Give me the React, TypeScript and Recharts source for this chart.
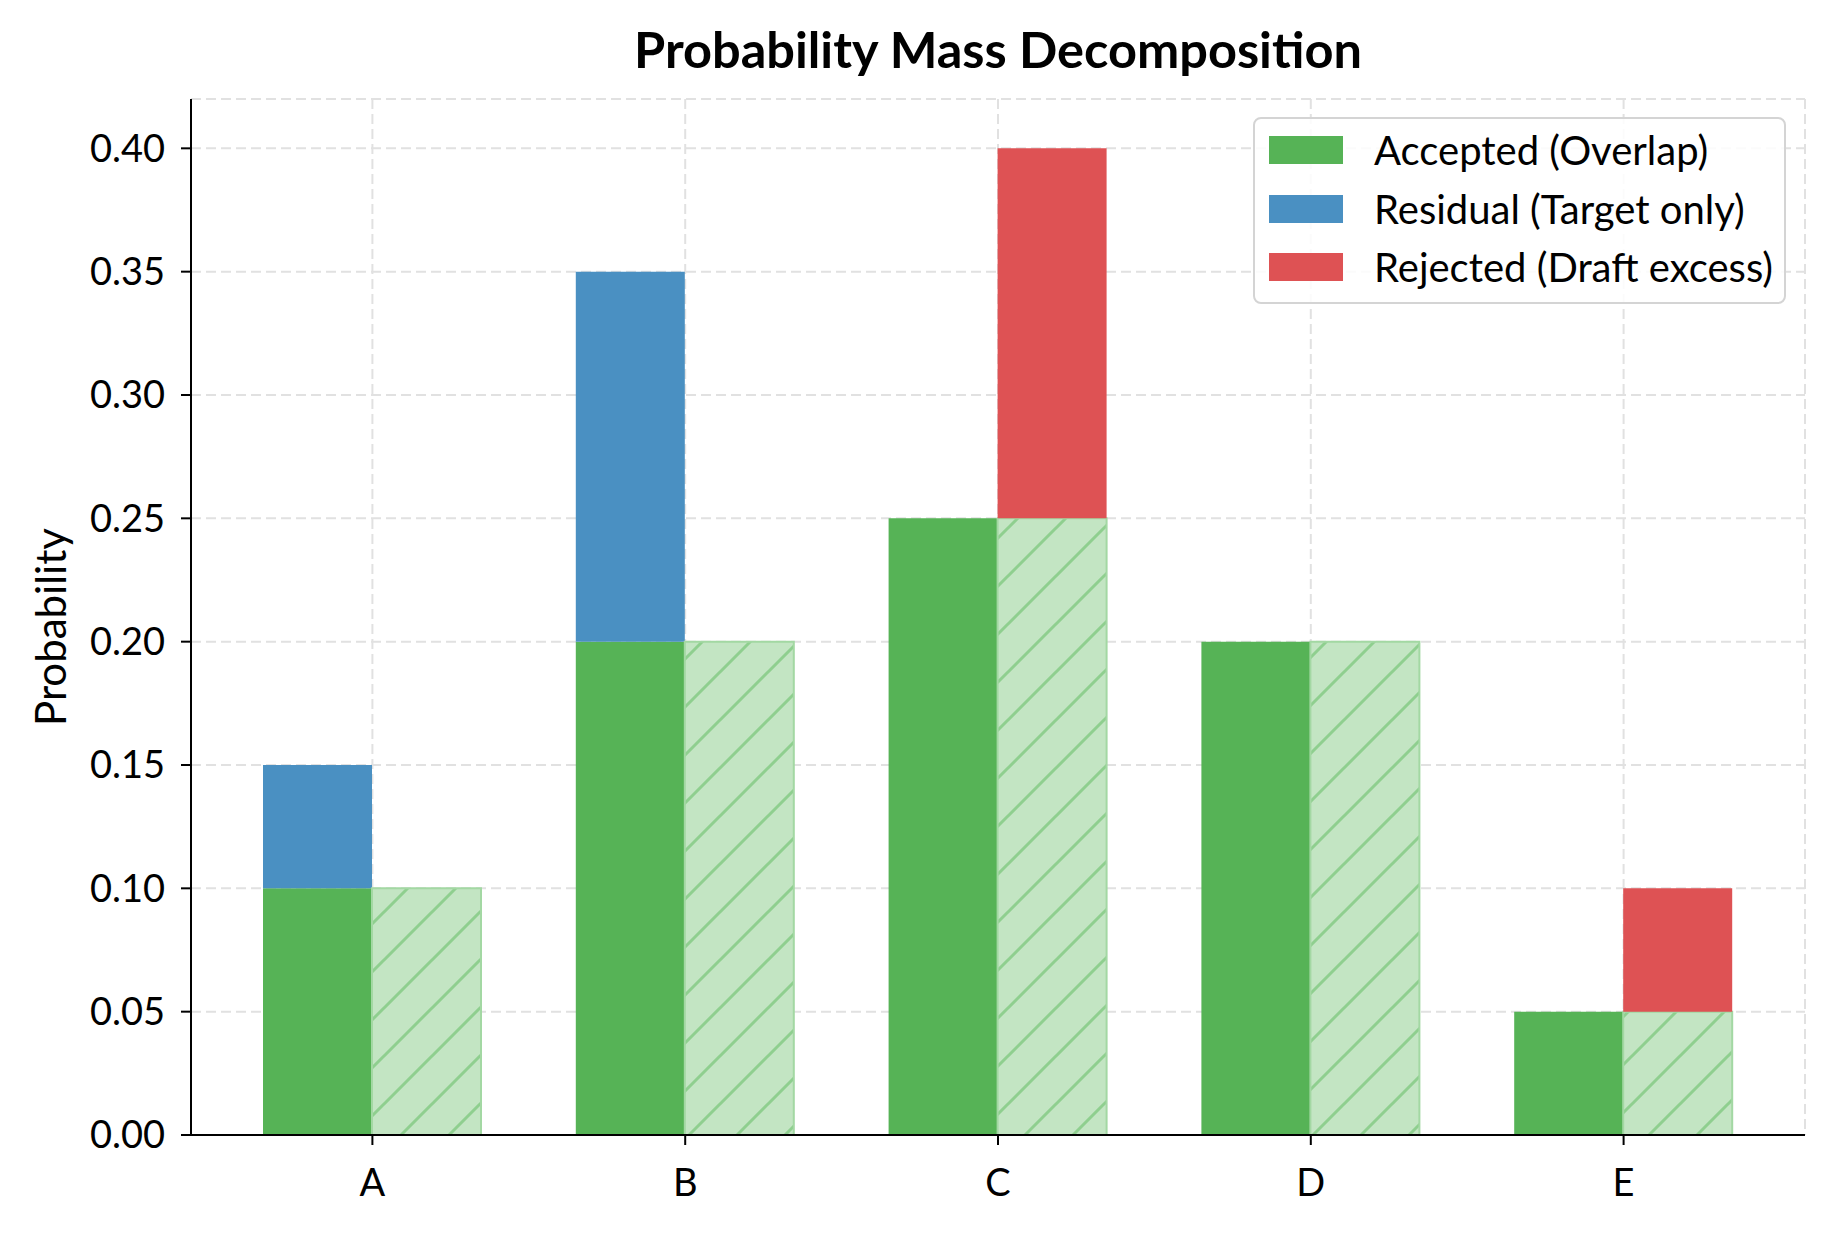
import { BarChart, Bar, XAxis, YAxis, CartesianGrid } from 'recharts';

const categories = ['A', 'B', 'C', 'D', 'E'];
const accepted = [0.1, 0.2, 0.25, 0.2, 0.05];
const residual = [0.05, 0.15, 0, 0, 0];
const rejected = [0, 0, 0.15, 0, 0.05];
const yTicks = [0, 0.05, 0.1, 0.15, 0.2, 0.25, 0.3, 0.35, 0.4];

const legendItems = [
  { label: 'Accepted (Overlap)', color: '#56b356' },
  { label: 'Residual (Target only)', color: '#4a90c2' },
  { label: 'Rejected (Draft excess)', color: '#de5254' },
];

const data = categories.map((name, i) => ({
  name,
  accepted: accepted[i],
  residual: residual[i],
  acceptedDraft: accepted[i],
  rejected: rejected[i],
}));

const FONT = 'Lato, "Noto Sans", sans-serif';

export default function App() {
  return (
    <div style={{ position: 'relative', width: 1834, height: 1234, background: '#fff', fontFamily: FONT }}>
      <style>{`body{margin:0}`}</style>
      {/* hatch pattern for the draft's accepted mass */}
      <svg width={0} height={0} style={{ position: 'absolute' }}>
        <defs>
          <pattern id="hatch" patternUnits="userSpaceOnUse" width={48} height={48}>
            <rect width={48} height={48} fill="#c3e5c3" />
            <path d="M-12,12 L12,-12 M0,48 L48,0 M36,60 L60,36" stroke="#8fcf8f" strokeWidth={3} />
          </pattern>
        </defs>
      </svg>

      <BarChart
        width={1834}
        height={1234}
        data={data}
        margin={{ top: 99, right: 29, bottom: 39, left: 11 }}
        barGap={0}
        barSize={109}
      >
        <CartesianGrid stroke="#e1e1e1" strokeWidth={2} strokeDasharray="10 5" />
        <XAxis
          dataKey="name"
          padding={{ left: 25, right: 25 }}
          height={60}
          tickSize={10}
          tickMargin={24}
          axisLine={{ stroke: '#000', strokeWidth: 2 }}
          tickLine={{ stroke: '#000', strokeWidth: 2 }}
          tick={{ fill: '#000', fontSize: 38, fontFamily: FONT }}
        />
        <YAxis
          width={180}
          domain={[0, 0.42]}
          ticks={yTicks}
          tickFormatter={(v: number) => v.toFixed(2)}
          tickSize={10}
          tickMargin={16}
          axisLine={{ stroke: '#000', strokeWidth: 2 }}
          tickLine={{ stroke: '#000', strokeWidth: 2 }}
          tick={{ fill: '#000', fontSize: 38, fontFamily: FONT }}
        />
        <Bar dataKey="accepted" stackId="target" fill="#56b356" isAnimationActive={false} />
        <Bar dataKey="residual" stackId="target" fill="#4a90c2" isAnimationActive={false} />
        <Bar dataKey="acceptedDraft" stackId="draft" fill="url(#hatch)" stroke="#a3d8a3" strokeWidth={2} isAnimationActive={false} />
        <Bar dataKey="rejected" stackId="draft" fill="#de5254" isAnimationActive={false} />
      </BarChart>

      <div
        style={{
          position: 'absolute', left: 998, top: 49, transform: 'translate(-50%, -50%)',
          fontSize: 50.5, fontWeight: 700, lineHeight: 1, whiteSpace: 'nowrap',
        }}
      >
        Probability Mass Decomposition
      </div>

      <div
        style={{
          position: 'absolute', left: 50, top: 627, transform: 'translate(-50%, -50%) rotate(-90deg)',
          fontSize: 42, lineHeight: 1, whiteSpace: 'nowrap',
        }}
      >
        Probability
      </div>

      <div
        style={{
          position: 'absolute', left: 1253, top: 117, width: 533, height: 187, boxSizing: 'border-box',
          border: '2px solid #d4d4d4', borderRadius: 8, background: 'rgba(255,255,255,0.85)',
          padding: '2px 0 0 14px',
        }}
      >
        {legendItems.map((it) => (
          <div key={it.label} style={{ display: 'flex', alignItems: 'center', height: 58.5 }}>
            <div style={{ width: 74, height: 28, background: it.color, marginRight: 31 }} />
            <span style={{ fontSize: 40, lineHeight: 1, whiteSpace: 'nowrap' }}>{it.label}</span>
          </div>
        ))}
      </div>
    </div>
  );
}
